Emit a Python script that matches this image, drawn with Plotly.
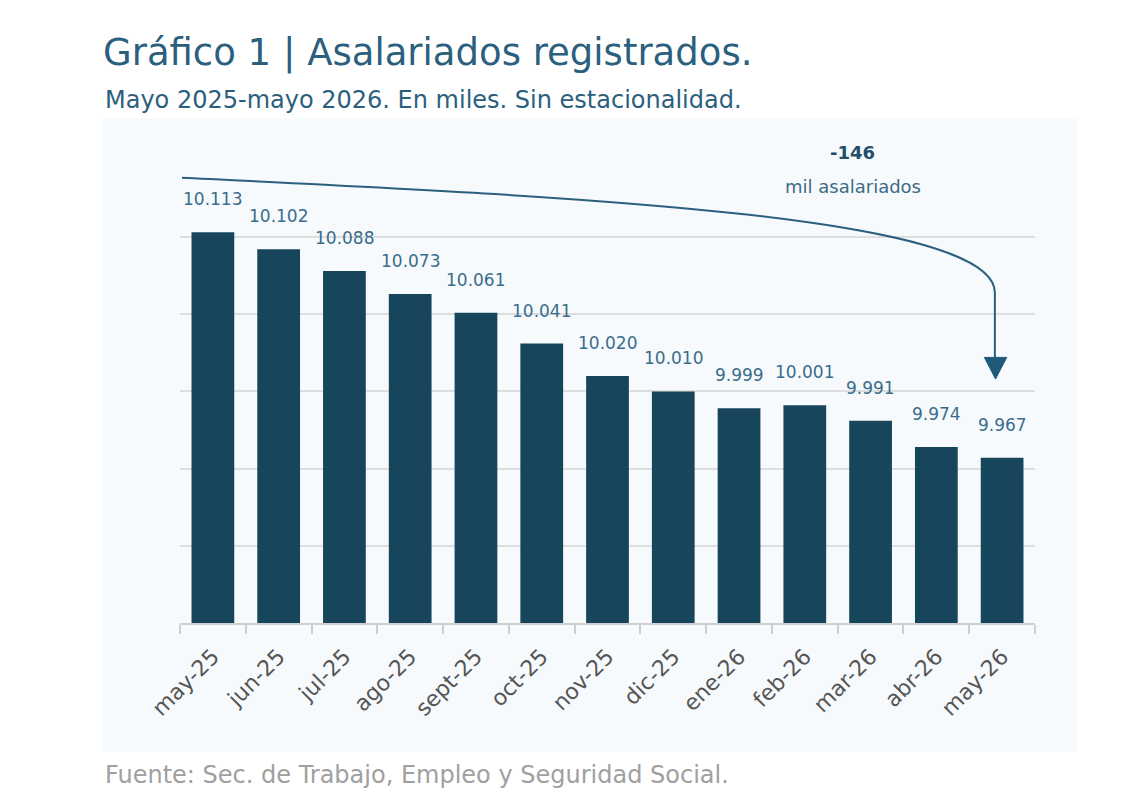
import plotly.graph_objects as go

# datos: asalariados registrados, en miles
meses = ["may-25", "jun-25", "jul-25", "ago-25", "sept-25", "oct-25", "nov-25",
         "dic-25", "ene-26", "feb-26", "mar-26", "abr-26", "may-26"]
asalariados = [10113, 10102, 10088, 10073, 10061, 10041, 10020,
               10010, 9999, 10001, 9991, 9974, 9967]

titulo = "Gráfico 1 | Asalariados registrados."
subtitulo = "Mayo 2025-mayo 2026. En miles. Sin estacionalidad."
fuente = "Fuente: Sec. de Trabajo, Empleo y Seguridad Social."

azul = "#17455c"
azul_texto = "#2b5f7e"
fondo = "#f7fafc"
FONT = "DejaVu Sans"

x = list(range(len(meses)))
variacion = asalariados[-1] - asalariados[0]


def miles(v):
    return f"{v:,}".replace(",", ".")


fig = go.Figure(go.Bar(
    x=x,
    y=asalariados,
    width=0.65,
    marker=dict(color=azul, line=dict(width=0)),
    hoverinfo="skip",
))

# etiquetas de valor sobre las barras
for i, v in zip(x, asalariados):
    fig.add_annotation(x=i, y=v, text=miles(v), showarrow=False,
                       yshift=33, font=dict(size=17, color="#3a6d8c", family=FONT))

# flecha curva desde el primer al ultimo mes
fig.add_shape(type="path", xref="x", yref="y", layer="above",
              path="M -0.47,10148.4 C 5.5,10136 11.89,10124 11.89,10074 L 11.89,10031",
              line=dict(color=azul_texto, width=2))
fig.add_shape(type="path", xref="x", yref="y", layer="above",
              path="M 11.73,10032 L 12.07,10032 L 11.90,10018 Z",
              fillcolor="#1f5a78", line=dict(color="#1f5a78", width=1))

fig.add_annotation(x=9.73, y=10142.5, yshift=34, text=f"<b>{variacion}</b>", showarrow=False,
                   font=dict(size=18, color="#1f4f6c", family=FONT))
fig.add_annotation(x=9.73, y=10142.5, text="mil asalariados", showarrow=False,
                   font=dict(size=18, color="#3d6b85", family=FONT))

# subtitulo y fuente
fig.add_annotation(xref="paper", yref="paper", x=-0.09, y=1.127, xanchor="left",
                   yanchor="middle", text=subtitulo, showarrow=False,
                   font=dict(size=24, color=azul_texto, family=FONT))
fig.add_annotation(xref="paper", yref="paper", x=-0.09, y=-0.328, xanchor="left",
                   yanchor="middle", text=fuente, showarrow=False,
                   font=dict(size=24, color="#a0a0a0", family=FONT))

# panel de fondo
fig.add_shape(type="rect", xref="paper", yref="paper", layer="below",
              x0=-0.09, x1=1.049, y0=-0.278, y1=1.088,
              fillcolor=fondo, line=dict(width=0))

fig.update_layout(
    width=1140,
    height=804,
    autosize=False,
    margin=dict(l=172, r=113, t=151, b=189),
    paper_bgcolor="white",
    plot_bgcolor=fondo,
    showlegend=False,
    font=dict(family=FONT),
    title=dict(text=titulo, xref="container", yref="container",
               x=95 / 1140, xanchor="left", y=1 - 44 / 804, yanchor="middle",
               font=dict(size=37, color=azul_texto, family=FONT)),
    xaxis=dict(
        range=[-0.5, 12.5],
        tickmode="array",
        tickvals=x,
        ticktext=meses,
        tickangle=-45,
        ticks="",
        ticklabelstandoff=10,
        tickfont=dict(size=22, color="#555555", family=FONT),
        showgrid=False,
        zeroline=False,
        showline=True,
        linecolor="#cfcfcf",
        linewidth=2,
        minor=dict(tickmode="array", tickvals=[i - 0.5 for i in x] + [x[-1] + 0.5],
                   ticks="outside", ticklen=9, tickwidth=2, tickcolor="#cfcfcf"),
    ),
    yaxis=dict(
        range=[9860, 10160.5],
        tick0=9860,
        dtick=50,
        showticklabels=False,
        showgrid=True,
        gridcolor="#dedede",
        gridwidth=2,
        zeroline=False,
        showline=False,
    ),
)

fig.write_html("out.html")
